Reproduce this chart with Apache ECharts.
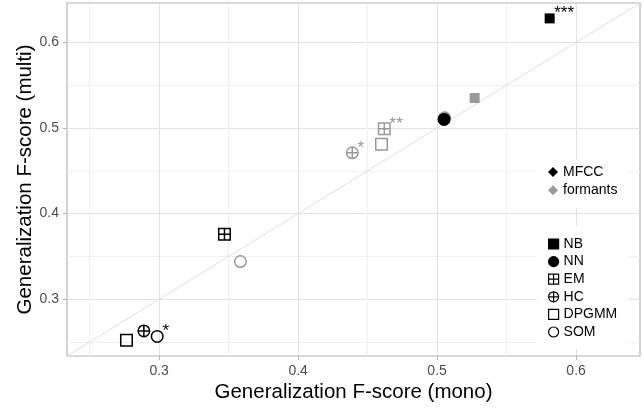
<!DOCTYPE html>
<html><head><meta charset="utf-8">
<script src="https://cdn.jsdelivr.net/npm/echarts@6/dist/echarts.min.js"></script>
<style>html,body{margin:0;padding:0;background:#fff}#c{width:644px;height:408px}</style>
</head><body><div id="c"></div>
<script>
// ---- data ----
const models = ['NB', 'NN', 'EM', 'HC', 'DPGMM', 'SOM'];
const features = ['MFCC', 'formants'];
const mfccMono = [0.581, 0.505, 0.347, 0.289, 0.2765, 0.2986];
const mfccMulti = [0.628, 0.510, 0.376, 0.263, 0.252, 0.2566];
const formantsMono = [0.527, 0.5055, 0.462, 0.439, 0.460, 0.3585];
const formantsMulti = [0.535, 0.512, 0.499, 0.471, 0.481, 0.344];
const mfccStars = ['***', '', '', '', '', '*'];
const formantsStars = ['', '', '**', '*', '', ''];
const tickValues = [0.3, 0.4, 0.5, 0.6];
const axisMin = 0.2337, axisMax = 0.646;

// ---- styles ----
const FONT = 'Liberation Sans, Arial, Helvetica, sans-serif';
const featureColor = { MFCC: '#000000', formants: '#999999' };
const shapeStyle = {
  NB: { symbol: 'rect', size: 10, filled: true },
  NN: { symbol: 'circle', size: 13, filled: true },
  EM: { symbol: 'path://M0,0H12V12H0ZM6,0V12M0,6H12', size: 11.5, filled: false },
  HC: { symbol: 'path://M12,6A6,6,0,1,1,0,6A6,6,0,1,1,12,6ZM6,0V12M0,6H12', size: 11.5, filled: false },
  DPGMM: { symbol: 'rect', size: 11.5, filled: false },
  SOM: { symbol: 'circle', size: 11.5, filled: false }
};
function itemStyleFor(sh, color) {
  return sh.filled ? { color: color, borderColor: color, borderWidth: 0, opacity: 1 }
                   : { color: 'rgba(0,0,0,0)', borderColor: color, borderWidth: 1.5, opacity: 1 };
}
function pointData(mono, multi, stars, color) {
  return models.map((m, i) => {
    const sh = shapeStyle[m];
    const d = { name: m, value: [mono[i], multi[i]], symbol: sh.symbol, symbolSize: sh.size,
                itemStyle: itemStyleFor(sh, color) };
    if (stars[i]) {
      d.label = { show: true, formatter: stars[i], position: 'right', distance: 0,
                  offset: [4.5 - sh.size / 2, -5], color: color, fontSize: 17, fontFamily: FONT };
    }
    return d;
  });
}

const series = [];
series.push({ type: 'line', name: 'diag', data: [[axisMin, axisMin], [axisMax, axisMax]],
  symbol: 'none', silent: true, lineStyle: { color: '#DEDEDE', width: 1 }, z: 1 });
features.forEach(f => series.push({ type: 'scatter', name: f, data: [], symbol: 'diamond',
  itemStyle: { color: featureColor[f], borderColor: featureColor[f], opacity: 1 } }));
models.forEach(m => series.push({ type: 'scatter', name: m, data: [], symbol: shapeStyle[m].symbol,
  itemStyle: itemStyleFor(shapeStyle[m], '#000000') }));
series.push({ type: 'scatter', name: 'formants points', silent: true, z: 3,
  data: pointData(formantsMono, formantsMulti, formantsStars, featureColor.formants) });
series.push({ type: 'scatter', name: 'MFCC points', silent: true, z: 4,
  data: pointData(mfccMono, mfccMulti, mfccStars, featureColor.MFCC) });

// main axes: ticks + labels at tickValues
function valueAxis(name, isX) {
  return {
    type: 'value', min: axisMin, max: axisMax, splitNumber: 8, minInterval: 0.05, maxInterval: 0.05,
    name: name, nameLocation: 'middle', nameGap: isX ? 26 : 31, nameMoveOverlap: false,
    nameTextStyle: { fontSize: 20.5, color: '#000', fontFamily: FONT },
    axisLine: { show: false },
    axisTick: { show: true, customValues: tickValues, length: 4, lineStyle: { color: '#B3B3B3', width: 1 } },
    axisLabel: { show: true, customValues: tickValues, margin: 8, fontSize: 14, color: '#4D4D4D', fontFamily: FONT,
                 formatter: v => String(v) },
    splitLine: { show: false },
    minorTick: { show: false }, minorSplitLine: { show: false }
  };
}
// grid-line axes: lines every 0.05, alternating minor / major colour
function gridAxis(isX) {
  return {
    type: 'value', min: axisMin, max: axisMax, splitNumber: 8, minInterval: 0.05, maxInterval: 0.05,
    position: isX ? 'bottom' : 'left',
    axisLine: { show: false }, axisTick: { show: false }, axisLabel: { show: false },
    splitLine: { show: true, showMinLine: false, showMaxLine: false,
                 lineStyle: { color: ['#EFEFEF', '#E2E2E2'], width: 1 } }
  };
}

const legendCommon = {
  orient: 'vertical', left: 537, backgroundColor: '#ffffff', itemWidth: 10, itemHeight: 10,
  textStyle: { fontSize: 14, color: '#000', fontFamily: FONT, lineHeight: 14 },
  selectedMode: false, inactiveColor: '#000'
};

const option = {
  animation: false,
  backgroundColor: '#ffffff',
  grid: { left: 67, right: 4, top: 3, bottom: 50, show: true, borderColor: '#B3B3B3', borderWidth: 1.2,
          backgroundColor: 'transparent', containLabel: false },
  xAxis: [valueAxis('Generalization F-score (mono)', true), gridAxis(true)],
  yAxis: [valueAxis('Generalization F-score (multi)', false), gridAxis(false)],
  legend: [
    Object.assign({}, legendCommon, { top: 160, padding: [5, 10, 11, 11], itemGap: 4.3,
      itemStyle: { borderWidth: 0 },
      data: features.map(f => ({ name: f, icon: 'diamond' })) }),
    Object.assign({}, legendCommon, { top: 226, padding: [11, 11, 10, 11], itemGap: 3.6,
      itemStyle: { borderWidth: 1.2 },
      data: models.map(m => ({ name: m, icon: shapeStyle[m].symbol })) })
  ],
  series: series
};
const chart = echarts.init(document.getElementById('c'), null, { renderer: 'canvas' });
chart.setOption(option);
</script></body></html>
